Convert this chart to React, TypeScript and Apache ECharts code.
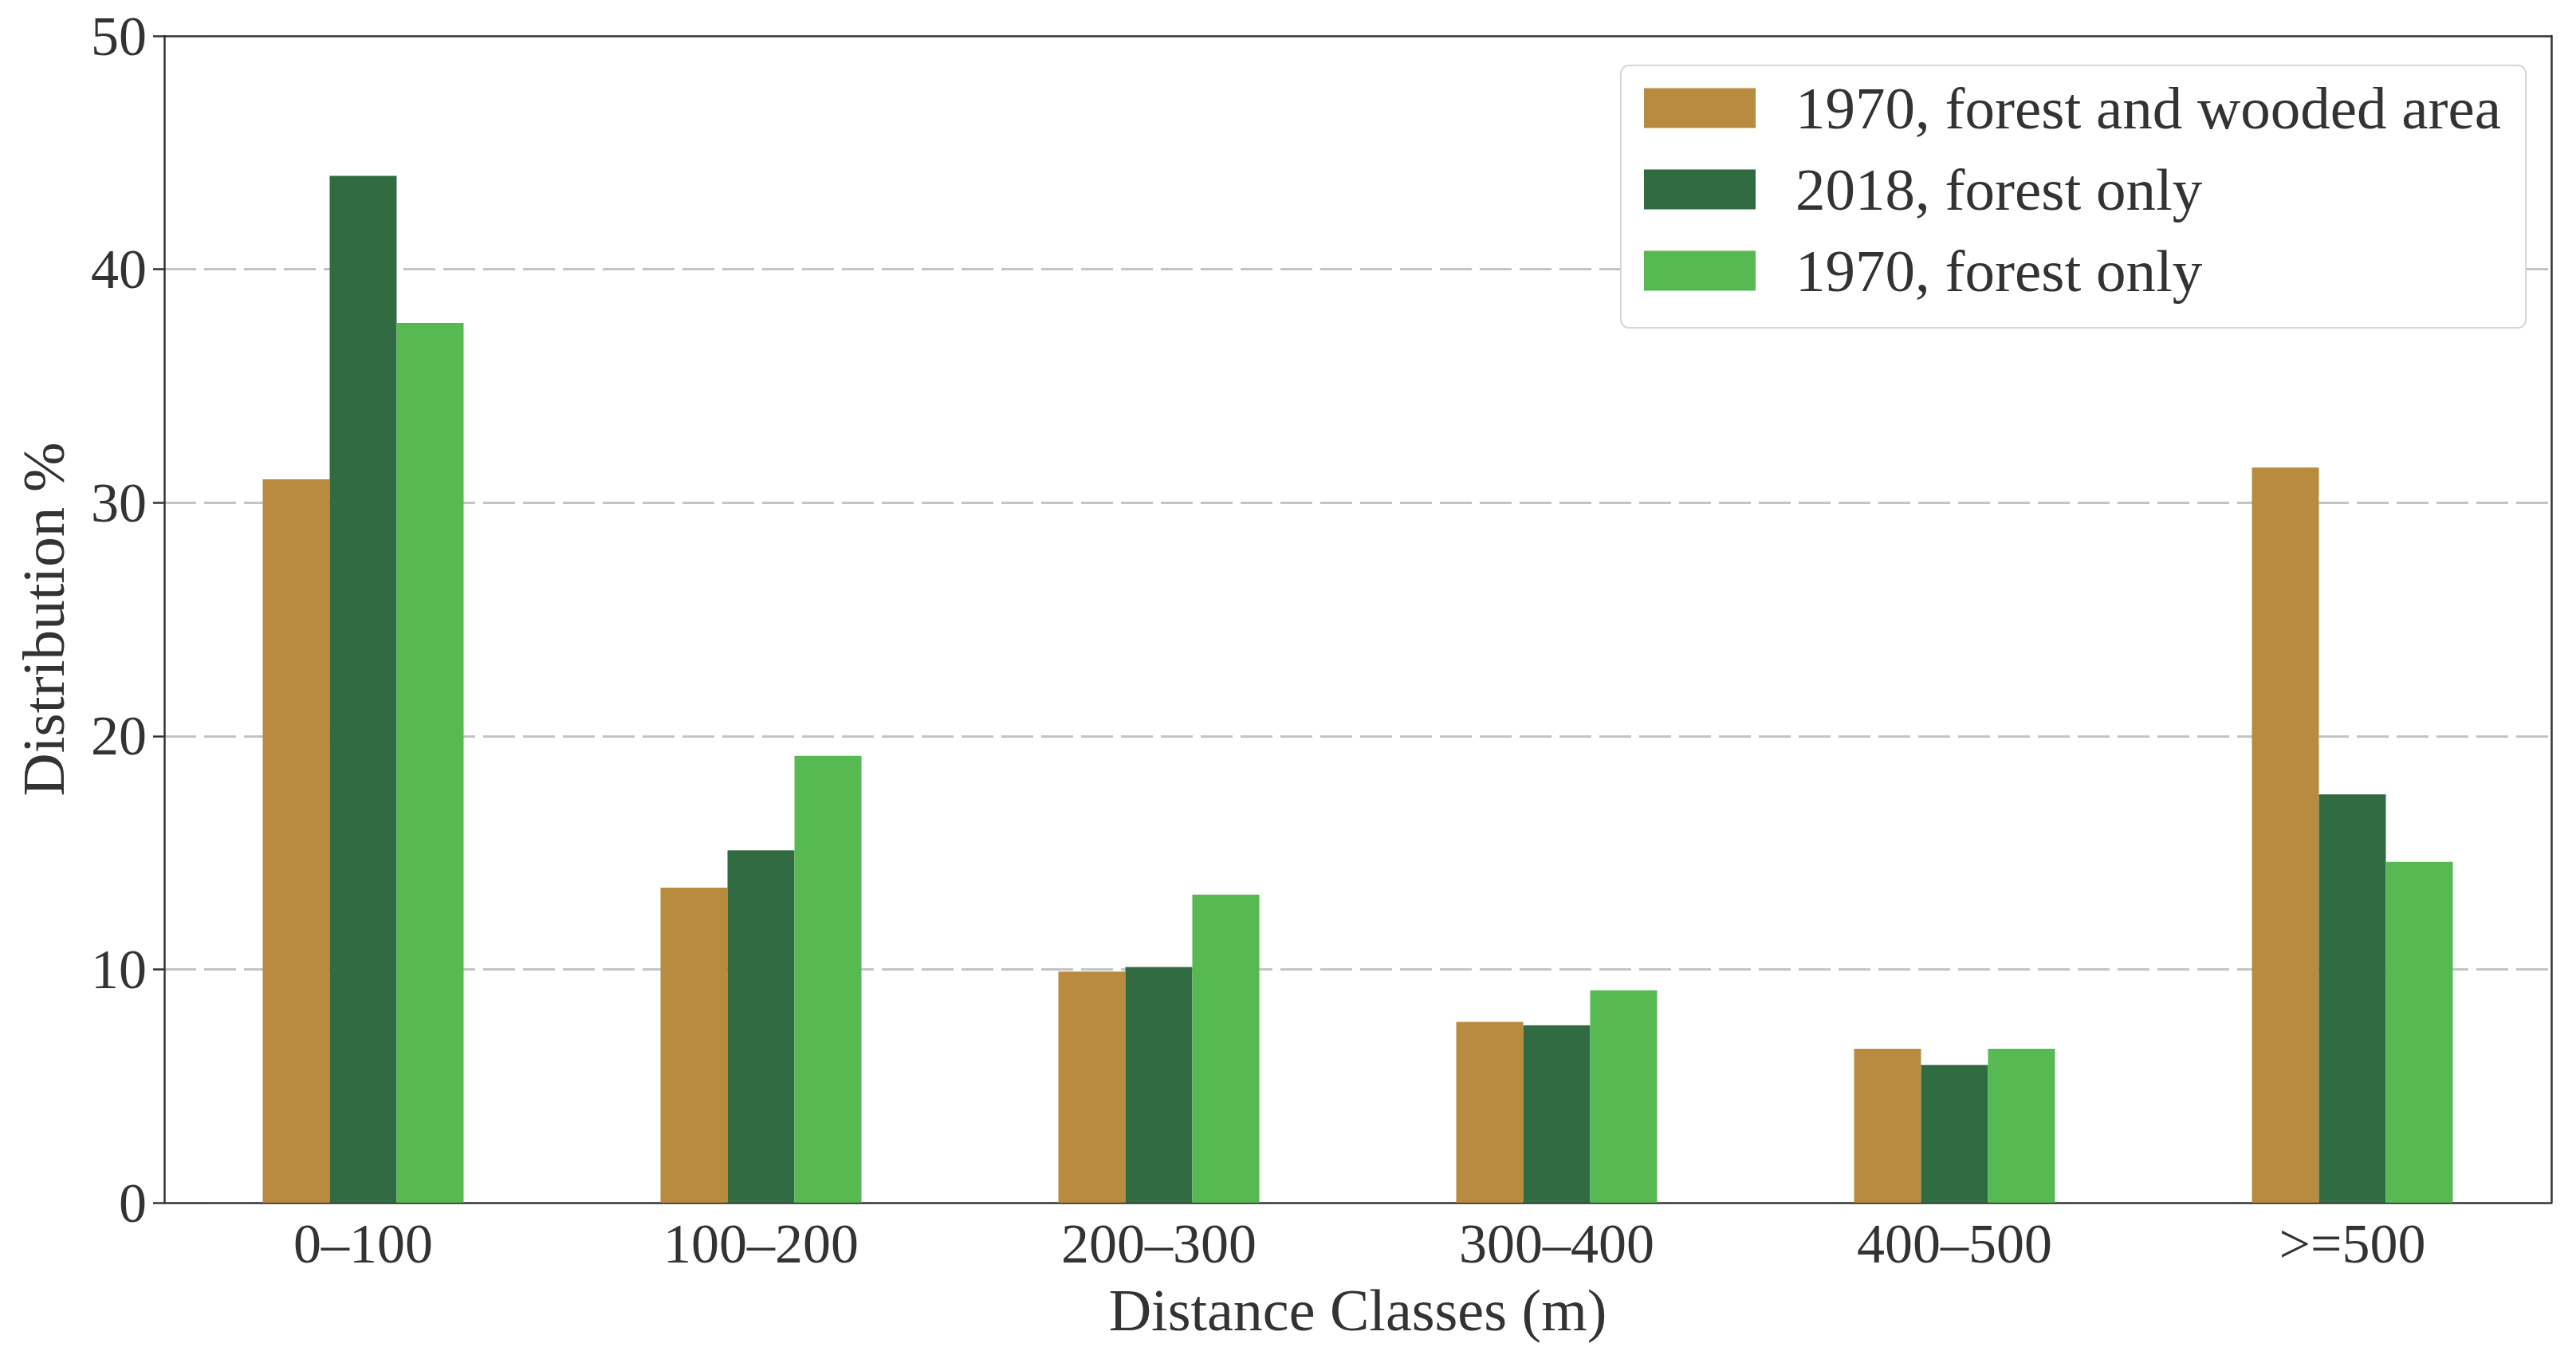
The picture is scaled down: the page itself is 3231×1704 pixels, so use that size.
import React, { useEffect, useRef } from "react";
import * as echarts from "echarts";

const categories = ["0–100", "100–200", "200–300", "300–400", "400–500", ">=500"];
const seriesNames = ["1970, forest and wooded area", "2018, forest only", "1970, forest only"];
const forestWooded1970 = [31.0, 13.5, 9.9, 7.75, 6.6, 31.5];
const forestOnly2018 = [44.0, 15.1, 10.1, 7.6, 5.9, 17.5];
const forestOnly1970 = [37.7, 19.15, 13.2, 9.1, 6.6, 14.6];
const seriesColors = ["#B98B3E", "#316B41", "#56B952"];
const yTicks = { min: 0, max: 50, interval: 10 };

const FONT = "'Liberation Serif', 'DejaVu Serif', serif";
const TEXT = "#333333";
const AXIS = "#333333";

export default function App() {
  const ref = useRef<HTMLDivElement>(null);
  useEffect(() => {
    if (!ref.current) return;
    const chart = echarts.init(ref.current, undefined, { renderer: "svg" });
    const values = [forestWooded1970, forestOnly2018, forestOnly1970];
    chart.setOption({
      animation: false,
      backgroundColor: "#ffffff",
      textStyle: { fontFamily: FONT, color: TEXT },
      grid: {
        left: 206,
        right: 31,
        top: 45,
        bottom: 196,
      },
      legend: {
        orient: "vertical",
        left: 2033,
        top: 82,
        padding: [16, 31, 34, 29],
        itemWidth: 140,
        itemHeight: 50,
        itemGap: 27,
        backgroundColor: "#ffffff",
        borderColor: "#d6d6d6",
        borderWidth: 2,
        borderRadius: 10,
        icon: "rect",
        z: 10,
        textStyle: {
          fontFamily: FONT,
          fontSize: 75,
          color: TEXT,
          padding: [0, 0, 0, 45],
        },
        data: seriesNames,
      },
      xAxis: [
        {
          type: "category",
          data: categories,
          name: "Distance Classes (m)",
          nameLocation: "middle",
          nameGap: 98,
          nameTextStyle: { fontFamily: FONT, fontSize: 74, color: TEXT },
          axisLine: { onZero: false, lineStyle: { color: AXIS, width: 2.5 } },
          axisTick: { alignWithLabel: true, length: 14, lineStyle: { color: AXIS, width: 2.5 } },
          axisLabel: { fontFamily: FONT, fontSize: 70, color: TEXT, margin: 16 },
          splitLine: { show: false },
        },
        {
          type: "category",
          data: categories,
          position: "top",
          z: 5,
          axisLine: { show: true, onZero: false, lineStyle: { color: AXIS, width: 2.5 } },
          axisTick: { show: false },
          axisLabel: { show: false },
          splitLine: { show: false },
        },
      ],
      yAxis: [
        {
          type: "value",
          min: yTicks.min,
          max: yTicks.max,
          interval: yTicks.interval,
          name: "Distribution %",
          nameLocation: "middle",
          nameGap: 114,
          nameTextStyle: { fontFamily: FONT, fontSize: 75, color: TEXT },
          axisLine: { show: true, onZero: false, lineStyle: { color: AXIS, width: 2.5 } },
          axisTick: { show: true, length: 14, lineStyle: { color: AXIS, width: 2.5 } },
          axisLabel: { fontFamily: FONT, fontSize: 70, color: TEXT, margin: 22 },
          splitLine: {
            show: true,
            showMaxLine: false,
            showMinLine: false,
            lineStyle: { color: "#c4c4c4", width: 3, type: [40, 10] },
          },
        },
        {
          type: "value",
          min: yTicks.min,
          max: yTicks.max,
          interval: yTicks.interval,
          position: "right",
          z: 5,
          axisLine: { show: true, onZero: false, lineStyle: { color: AXIS, width: 2.5 } },
          axisTick: { show: false },
          axisLabel: { show: false },
          splitLine: { show: false },
        },
      ],
      series: seriesNames.map((name, i) => ({
        name,
        type: "bar",
        data: values[i],
        barWidth: 84,
        barGap: "0%",
        itemStyle: { color: seriesColors[i] },
      })),
    });
    return () => chart.dispose();
  }, []);
  return (
    <div
      ref={ref}
      style={{ position: "absolute", left: 0, top: 0, width: 3231, height: 1704 }}
    />
  );
}
